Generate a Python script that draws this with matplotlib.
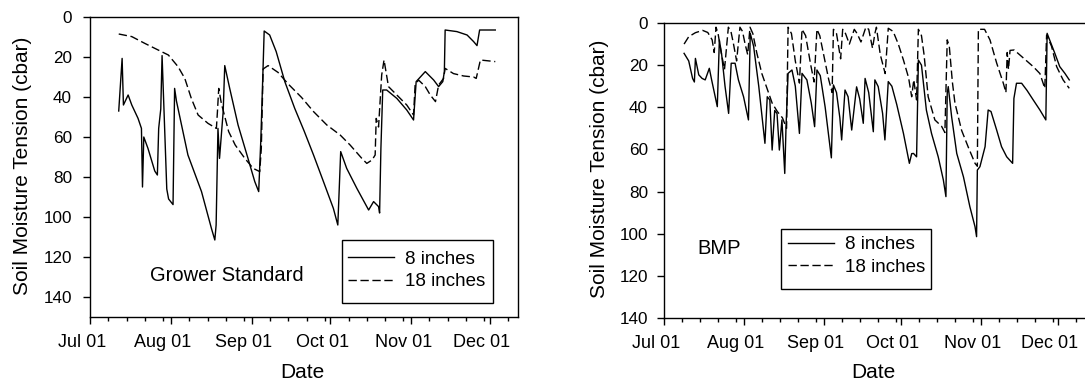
import matplotlib
matplotlib.use("Agg")
import matplotlib.pyplot as plt
import matplotlib.dates as mdates
import matplotlib.transforms as mtransforms
from matplotlib.patches import Rectangle
import pandas as pd

plt.rcParams['font.family'] = ['Liberation Sans', 'DejaVu Sans']
plt.rcParams['lines.scale_dashes'] = False

# ---------------- data: (days after Jul 01, soil moisture tension in cbar) ----------------
START = pd.Timestamp('2004-07-01')

gs_8in = [(11.0, 47), (12.3, 20.7), (12.8, 44), (14.6, 39), (16.0, 44), (18.4, 50.7), (19.7, 55.7),
          (20.1, 85), (20.6, 60), (22.2, 65.7), (24.8, 77), (25.8, 79), (26.3, 55.7), (27.1, 46),
          (27.6, 19.3), (29.4, 86), (30.1, 91), (31.8, 93.8), (32.4, 35.7), (33.1, 42), (37.5, 69),
          (42.7, 87.3), (46.5, 105.7), (47.8, 111.5), (48.3, 104), (49.0, 55.7), (49.6, 70.7),
          (51.0, 47.3), (51.6, 24.3), (53.5, 35.7), (56.7, 54), (60.5, 70.7), (63.1, 82.3),
          (64.6, 87.3), (65.4, 62), (66.3, 24.3), (66.7, 7), (68.8, 9), (71.3, 17.3), (74.6, 32.3),
          (78.4, 45.7), (82.0, 57), (85.6, 69), (89.4, 82.3), (93.2, 95.7), (94.9, 104), (96.0, 67.3),
          (98.3, 75.7), (102.2, 85.7), (106.7, 96.5), (108.6, 92.3), (110.5, 94.8), (110.9, 98),
          (111.4, 65.7), (112.1, 36.5), (113.6, 36.5), (117.5, 40.7), (121.3, 46.5), (123.9, 51.5),
          (124.9, 32.3), (128.4, 27.3), (131.6, 31.5), (133.5, 34.8), (135.1, 32.3), (135.7, 27.3),
          (136.0, 6.5), (140.5, 7.3), (144.4, 9), (146.9, 12.3), (148.2, 14.3), (149.2, 6.5),
          (155.2, 6.5)]

gs_18in = [(11.0, 8.5), (16.0, 9.8), (21.0, 13.2), (26.1, 16.5), (30.0, 19), (33.7, 24.8),
           (36.3, 30.7), (38.8, 40.7), (41.4, 49), (45.2, 53.2), (48.4, 55.7), (48.8, 47.3),
           (49.3, 35.7), (50.3, 43.2), (53.1, 57.3), (55.6, 64), (59.3, 70.7), (62.5, 75.7),
           (65.0, 77.3), (65.6, 65.7), (66.3, 26), (68.2, 24.3), (72.0, 27.7), (75.9, 33.5),
           (81.0, 40.2), (85.6, 47.3), (90.7, 54), (95.8, 59), (99.6, 64), (104.1, 70.7),
           (106.0, 73.2), (108.0, 71.5), (109.2, 69), (109.6, 50.7), (110.5, 55), (111.7, 29),
           (112.6, 21.5), (114.3, 34.8), (117.5, 39), (121.3, 44), (123.9, 49), (124.5, 34),
           (125.8, 31.5), (128.4, 34.8), (130.3, 39), (132.3, 42.3), (133.5, 34), (135.4, 30.7),
           (136.0, 25.7), (139.2, 28.3), (143.1, 29.5), (146.9, 30), (147.9, 30.7), (149.5, 21.5),
           (155.2, 22.3)]

bmp_8in = [(7.8, 14.4), (9.6, 18), (11.1, 26.3), (11.8, 28), (12.2, 16.8), (13.5, 24.6), (14.8, 26.3),
           (16.0, 27), (17.6, 21.5), (18.5, 27), (20.7, 39.7), (21.5, 8.1), (22.4, 15), (23.7, 30),
           (25.1, 42.9), (26.1, 19.1), (27.6, 19.1), (28.9, 27), (30.9, 35), (32.8, 46), (33.5, 4.9),
           (34.8, 11), (36.8, 30), (39.2, 57.1), (40.1, 35), (41.1, 36.5), (42.0, 60.3), (43.0, 41.5),
           (43.9, 43), (44.8, 60.3), (45.8, 46), (46.9, 71.4), (47.4, 49), (48.2, 23.9), (49.7, 22.3),
           (51.0, 30), (52.6, 52.4), (53.6, 23.9), (55.5, 27), (57.2, 38), (58.5, 49.2), (59.4, 22.3),
           (60.7, 25), (62.6, 40), (65.0, 64), (65.8, 29.4), (67.0, 33), (68.3, 45), (69.0, 55.5),
           (70.3, 31.8), (71.5, 35), (72.9, 50.8), (74.8, 30.3), (76.0, 36), (77.4, 47.6), (78.1, 26.3),
           (79.5, 33), (81.3, 51.6), (81.9, 27), (83.2, 30.2), (84.9, 42.9), (85.8, 55.5), (87.1, 27.8),
           (88.5, 30), (90.4, 38.7), (93.0, 52.4), (95.3, 66.6), (96.2, 62), (96.9, 61.9), (98.1, 63.5),
           (98.8, 17.6), (100.0, 20), (101.9, 41.3), (103.9, 52.4), (106.5, 63.5), (108.5, 74.5),
           (109.5, 82.4), (110.0, 33.4), (110.4, 30.2), (111.7, 44.4), (113.7, 61.9), (116.3, 73.0),
           (118.8, 87.2), (120.8, 96.7), (121.4, 101.4), (121.7, 69.8), (122.7, 68.2), (124.7, 58.7),
           (125.9, 41.3), (127.0, 42), (129.2, 50.8), (131.1, 58.7), (133.1, 63.5), (135.4, 66.6),
           (135.9, 35.8), (136.9, 28.6), (138.9, 28.6), (141.0, 32), (143.4, 36.5), (146.0, 41.3),
           (148.3, 46.0), (148.8, 4.9), (149.8, 8.1), (151.8, 14.4), (153.7, 20.7), (155.7, 23.9),
           (157.4, 27)]

bmp_18in = [(7.8, 10), (9.6, 6.5), (12.2, 4.6), (15.0, 3.5), (17.0, 4.5), (18.7, 8), (19.5, 14),
            (20.2, 2), (21.0, 5), (22.2, 14), (23.5, 22), (25.0, 2), (26.0, 4), (27.0, 10), (28.2, 18),
            (29.5, 2), (30.5, 4), (31.5, 10), (32.5, 15), (33.4, 2), (34.5, 5), (36.0, 14), (38.0, 24),
            (40.0, 31), (42.0, 38), (44.0, 42), (46.0, 45), (47.6, 50), (48.2, 2), (49.5, 5), (51.0, 18),
            (52.6, 28.5), (53.6, 3), (55.0, 6), (57.0, 20), (58.3, 28), (59.4, 3), (60.5, 6), (62.5, 18),
            (64.0, 27), (65.3, 33), (65.8, 3), (67.0, 5), (68.6, 17), (69.4, 3), (70.5, 5), (72.0, 10),
            (73.9, 3), (75.0, 5), (76.5, 9), (78.4, 2), (79.5, 3), (81.0, 12), (81.9, 5), (82.5, 2),
            (84.0, 15), (85.9, 24), (87.1, 2.5), (89.0, 4), (91.0, 10), (93.0, 17.6), (95.0, 26),
            (96.2, 35), (97.0, 27), (98.1, 36.5), (98.8, 3), (100.0, 6), (101.0, 15), (102.6, 35),
            (105.2, 46), (107.8, 49), (109.1, 52), (110.0, 8), (110.8, 11), (112.0, 28), (113.0, 38),
            (115.6, 51), (118.2, 59), (120.8, 66.6), (121.7, 68), (122.1, 3), (124.5, 3), (126.6, 8),
            (129.2, 19), (131.8, 28.6), (132.8, 33), (133.3, 14), (133.8, 22), (134.4, 13), (136.0, 12.8),
            (139.0, 16), (143.4, 20.7), (146.0, 24), (147.9, 31), (148.6, 5.7), (150.5, 11),
            (152.5, 20.7), (155.0, 27), (157.4, 31)]

series_labels = ['8 inches', '18 inches']
panel_titles = ['Grower Standard', 'BMP']
y_ticks_left = [0, 20, 40, 60, 80, 100, 120, 140]
y_ticks_right = [0, 20, 40, 60, 80, 100, 120, 140]
x_label = 'Date'
y_label = 'Soil Moisture Tension (cbar)'


def unpack(pairs):
    days, vals = zip(*pairs)
    return START + pd.to_timedelta(list(days), unit='D'), list(vals)


W, H = 1085, 387
fig = plt.figure(figsize=(W / 100, H / 100), dpi=100)
ax1 = fig.add_axes([90 / W, 1 - 317 / H, 428 / W, 300 / H])
ax2 = fig.add_axes([664 / W, 1 - 318 / H, 422 / W, 295 / H])

xmax = START + pd.Timedelta(days=163.9)
DASH = (0, (6, 2.6))
label_shift = mtransforms.ScaledTranslation(-8 / 100, 0, fig.dpi_scale_trans)

panels = [
    dict(ax=ax1, s8=gs_8in, s18=gs_18in, ylim=(150, 0), yt=y_ticks_left, title=panel_titles[0],
         tpos=(0.140, 0.137), rect=(0.589, 0.0467, 0.3528, 0.21), legpos=(0.6028, 0.222),
         ylab_x=-0.1346, ypad=8.0, xlab_y=-0.153),
    dict(ax=ax2, s8=bmp_8in, s18=bmp_18in, ylim=(140, 0), yt=y_ticks_right, title=panel_titles[1],
         tpos=(0.078, 0.234), rect=(0.2773, 0.0983, 0.3555, 0.2034), legpos=(0.2938, 0.278),
         ylab_x=-0.1294, ypad=6.5, xlab_y=-0.1525),
]

for p in panels:
    ax = p['ax']
    x8, v8 = unpack(p['s8'])
    x18, v18 = unpack(p['s18'])
    l8, = ax.plot(x8, v8, color='black', lw=1.0)
    l18, = ax.plot(x18, v18, color='black', lw=1.0, linestyle=DASH)
    ax.set_ylim(*p['ylim'])
    ax.set_yticks(p['yt'])
    ax.set_xlim(START, xmax)
    ax.xaxis.set_major_locator(mdates.MonthLocator())
    ax.xaxis.set_major_formatter(mdates.DateFormatter('%b %d'))
    ax.xaxis.set_minor_locator(mdates.DayLocator(bymonthday=[8, 15, 22, 29]))
    ax.tick_params(axis='both', which='major', direction='out', length=5, width=1, colors='black')
    ax.tick_params(axis='x', which='major', labelsize=13, pad=7)
    ax.tick_params(axis='y', which='major', labelsize=12.3, pad=p['ypad'])
    ax.tick_params(axis='x', which='minor', direction='out', length=3, width=1)
    for lab in ax.get_xticklabels():
        lab.set_transform(lab.get_transform() + label_shift)
    for sp in ax.spines.values():
        sp.set_linewidth(1.0)
        sp.set_color('black')
    ax.set_ylabel(y_label, fontsize=15)
    ax.yaxis.set_label_coords(p['ylab_x'], 0.505)
    ax.set_xlabel(x_label, fontsize=15)
    ax.xaxis.set_label_coords(0.497, p['xlab_y'])
    ax.text(p['tpos'][0], p['tpos'][1], p['title'], transform=ax.transAxes, fontsize=14.5,
            ha='left', va='center')
    rx, ry, rw, rh = p['rect']
    ax.add_patch(Rectangle((rx, ry), rw, rh, transform=ax.transAxes, fill=True,
                           facecolor='white', edgecolor='black', lw=1.0, zorder=5))
    leg = ax.legend([l8, l18], series_labels, loc='upper left', bbox_to_anchor=p['legpos'],
                    borderaxespad=0, frameon=False, fontsize=13.5, handlelength=2.45,
                    handletextpad=0.6, labelspacing=0.3, borderpad=0)
    leg.set_zorder(6)

ax2.spines['right'].set_visible(False)

fig.savefig('out.png', dpi=100, facecolor='white')
